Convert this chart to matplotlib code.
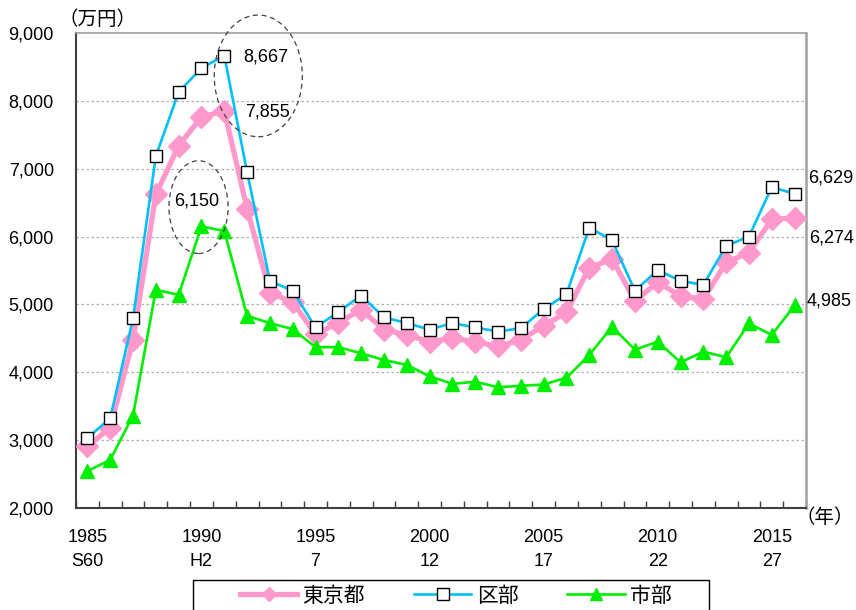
import numpy as np
import matplotlib.pyplot as plt
from matplotlib.patches import Ellipse, Rectangle
from matplotlib.ticker import FuncFormatter

plt.rcParams['font.family'] = ['Liberation Sans', 'Noto Sans CJK JP', 'DejaVu Sans']

# データ（万円）
years = list(range(1985, 2017))
tokyo = [2910, 3180, 4480, 6620, 7340, 7760, 7855, 6410, 5175, 5030,
         4560, 4730, 4920, 4630, 4550, 4450, 4500, 4450, 4380, 4480,
         4686, 4882, 5544, 5667, 5054, 5324, 5127, 5078, 5618, 5765,
         6255, 6274]
kubu = [3030, 3324, 4794, 7186, 8130, 8483, 8667, 6950, 5347, 5200,
        4660, 4890, 5130, 4810, 4725, 4630, 4725, 4660, 4600, 4650,
        4931, 5152, 6132, 5946, 5201, 5505, 5348, 5289, 5863, 6000,
        6730, 6629]
shibu = [2542, 2710, 3362, 5215, 5141, 6150, 6082, 4832, 4725, 4637,
         4370, 4370, 4280, 4180, 4110, 3940, 3830, 3860, 3780, 3800,
         3820, 3920, 4255, 4672, 4333, 4451, 4147, 4304, 4221, 4720,
         4550, 4985]
series_names = ['東京都', '区部', '市部']
xtick_years = [1985, 1990, 1995, 2000, 2005, 2010, 2015]
era_labels = ['S60', 'H2', '7', '12', '17', '22', '27']

fig = plt.figure(figsize=(8.56, 6.10), dpi=100)
ax = fig.add_axes([76 / 856, 1 - 508 / 610, 730 / 856, 475 / 610])

ax.plot(years, tokyo, color='#FF99CC', lw=3.8, marker='D', ms=11,
        mec='#FF99CC', mfc='#FF99CC', label=series_names[0], zorder=3)
ax.plot(years, kubu, color='#00C0F8', lw=1.9, marker='s', ms=8.5,
        mec='black', mfc='white', mew=1.0, label=series_names[1], zorder=4)
ax.plot(years, shibu, color='#00EE00', lw=1.9, marker='^', ms=10,
        mec='#00EE00', mfc='#00EE00', label=series_names[2], zorder=5)

ax.set_xlim(1984.5, 2016.5)
ax.set_ylim(2000, 9000)

ax.set_yticks(np.arange(2000, 9001, 1000))
ax.yaxis.set_major_formatter(FuncFormatter(lambda v, p: f'{int(v):,}'))
ax.tick_params(axis='y', length=0, pad=16, labelsize=13)

ax.set_xticks(xtick_years)
ax.set_xticklabels([str(y) for y in xtick_years])
ax.set_xticks(np.arange(1984.5, 2016.6, 1), minor=True)
ax.tick_params(axis='x', which='major', length=0, pad=15, labelsize=13)
ax.tick_params(axis='x', which='minor', direction='in', length=5, width=1, color='#404040')

for yr, era in zip(xtick_years, era_labels):
    ax.text(yr, -0.113, era, transform=ax.get_xaxis_transform(),
            ha='center', va='center', fontsize=13)

for v in range(3000, 9000, 1000):
    ax.axhline(v, color='#B0B0B0', lw=0.9, ls=(0, (2, 2)), zorder=1)

ax.spines['left'].set_color('#404040')
ax.spines['bottom'].set_color('#404040')
ax.spines['left'].set_linewidth(1.5)
ax.spines['bottom'].set_linewidth(1.5)
ax.spines['top'].set_color('#A0A0A0')
ax.spines['right'].set_color('#A0A0A0')
ax.spines['top'].set_linewidth(1.2)
ax.spines['right'].set_linewidth(1.8)

# 注記
ax.text(1992.8, 8647, '8,667', ha='center', va='center', fontsize=13)
ax.text(1992.9, 7838, '7,855', ha='center', va='center', fontsize=13)
ax.text(1989.8, 6524, '6,150', ha='center', va='center', fontsize=13)
ax.add_patch(Ellipse((1992.49, 8368), 3.86, 1794, fill=False, ls=(0, (4, 3)),
                     ec='#404040', lw=0.9, clip_on=False, zorder=6))
ax.add_patch(Ellipse((1989.87, 6434), 2.59, 1368, fill=False, ls=(0, (4, 3)),
                     ec='#404040', lw=0.9, clip_on=False, zorder=6))

ax.text(2017.6, 6868, '6,629', ha='center', va='center', fontsize=13, clip_on=False)
ax.text(2017.6, 5985, '6,274', ha='center', va='center', fontsize=13, clip_on=False)
ax.text(2017.5, 5049, '4,985', ha='center', va='center', fontsize=13, clip_on=False)

fig.text(97 / 856, 1 - 20 / 610, '（万円）', ha='center', va='center', fontsize=14)
fig.text(825 / 856, 1 - 518 / 610, '（年）', ha='center', va='center', fontsize=14)

# 凡例（枠は下端が画像外にはみ出す）
fig.add_artist(Rectangle((193 / 856, -0.02), (709 - 193) / 856, 0.02 + 1 - 580 / 610,
                         transform=fig.transFigure, fill=False, ec='black', lw=1.0))
leg = fig.legend(loc='center left', bbox_to_anchor=(240 / 856, 1 - 596 / 610),
                 ncol=3, fontsize=15, frameon=False, handlelength=2.75,
                 columnspacing=2.35, borderpad=0, borderaxespad=0,
                 handletextpad=0.25)
leg.legend_handles[0].set_markersize(7)
leg.legend_handles[1].set_markersize(8)
leg.legend_handles[2].set_markersize(9)

plt.savefig('out.png', dpi=100)
plt.close()
